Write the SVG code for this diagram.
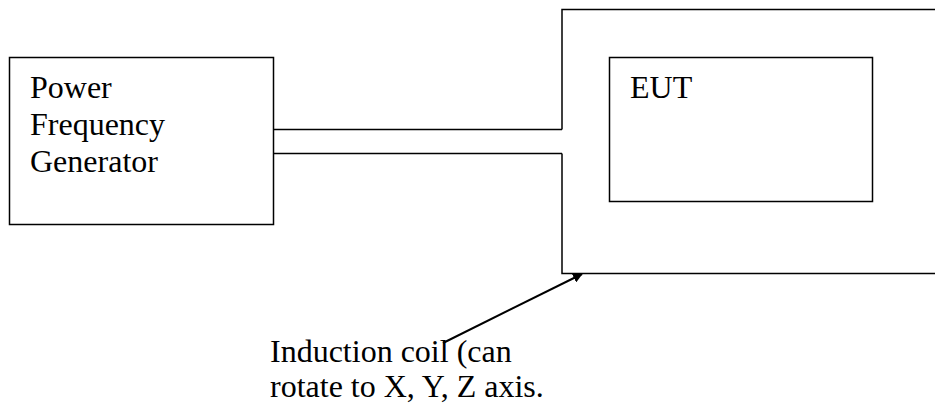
<svg xmlns="http://www.w3.org/2000/svg" width="935" height="405" viewBox="0 0 935 405">
<style>
.box{fill:#fff;stroke:#000;stroke-width:1.5}
.ln{fill:none;stroke:#000;stroke-width:1.5}
.t{font-family:"Liberation Serif","Times New Roman",serif;font-size:32px;fill:#000}
</style>
<defs>
<marker id="ah" markerWidth="10" markerHeight="10" refX="9" refY="5" orient="auto" markerUnits="userSpaceOnUse" viewBox="0 0 10 10">
<path d="M0,0 L10,5 L0,10 z" fill="#000"/>
</marker>
</defs>
<g id="generator">
<rect class="box" x="9.5" y="57.5" width="264" height="167"/>
<text class="t" x="30" y="98">Power</text>
<text class="t" x="30" y="135">Frequency</text>
<text class="t" x="30" y="172">Generator</text>
</g>
<g id="enclosure">
<path class="ln" d="M562,129.5 V9.5 H940 M940,273.5 H562 V153.5"/>
</g>
<g id="eut">
<rect class="box" x="609.5" y="57.5" width="263" height="144"/>
<text class="t" x="630" y="98">EUT</text>
</g>
<g id="connectors">
<line class="ln" x1="273.5" y1="129.5" x2="562" y2="129.5"/>
<line class="ln" x1="273.5" y1="153.5" x2="562" y2="153.5"/>
<line class="ln" x1="443" y1="343" x2="582" y2="274" marker-end="url(#ah)" style="stroke-width:2;marker-end:url(#ah)"/>
</g>
<g id="label">
<text class="t" x="270" y="362">Induction coil (can</text>
<text class="t" x="270" y="397">rotate to X, Y, Z axis.</text>
</g>
</svg>
